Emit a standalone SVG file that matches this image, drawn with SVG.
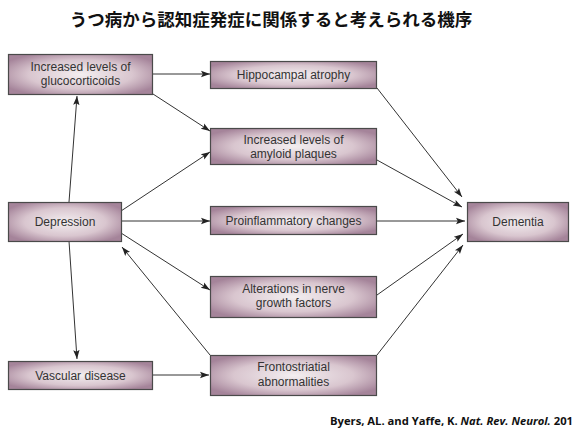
<svg xmlns="http://www.w3.org/2000/svg" width="576" height="432" viewBox="0 0 576 432">
<defs>
<radialGradient id="g" cx="0.5" cy="0.5" r="0.6">
<stop offset="0" stop-color="#f3eef0"/>
<stop offset="0.6" stop-color="#d9c6cf"/>
<stop offset="1" stop-color="#a5849a"/>
</radialGradient>
<marker id="a" viewBox="0 0 10 10" refX="10" refY="5" markerWidth="9" markerHeight="9" markerUnits="userSpaceOnUse" orient="auto">
<path d="M0,1.5 L10,5 L0,8.5 L2,5 Z" fill="#222"/>
</marker>
<style>
.box{fill:url(#g);stroke:#4a4a4a;stroke-width:1.2}
.t{font-family:"Liberation Sans",Arial,sans-serif;font-size:12px;fill:#333;text-anchor:middle}
.c line{stroke:#333;stroke-width:1;marker-end:url(#a)}
</style>
</defs>
<rect width="576" height="432" fill="#fff"/>
<text x="271" y="26" font-family="'Noto Sans CJK JP','Noto Sans CJK SC',sans-serif" font-size="17.5" font-weight="bold" text-anchor="middle" fill="#111">うつ病から認知症発症に関係すると考えられる機序</text>

<g class="c">
<line x1="153" y1="74" x2="210" y2="74"/>
<line x1="153" y1="94" x2="210" y2="131"/>
<line x1="69" y1="202" x2="77" y2="96"/>
<line x1="121" y1="211" x2="210" y2="152"/>
<line x1="121" y1="221" x2="210" y2="221"/>
<line x1="121" y1="233" x2="210" y2="290"/>
<line x1="210" y1="355" x2="122" y2="247"/>
<line x1="69" y1="241" x2="77" y2="359"/>
<line x1="153" y1="375" x2="209" y2="375"/>
<line x1="377" y1="88" x2="462" y2="197"/>
<line x1="377" y1="160" x2="462" y2="207"/>
<line x1="377" y1="221" x2="465" y2="221"/>
<line x1="377" y1="295" x2="463" y2="234"/>
<line x1="377" y1="355" x2="463" y2="245"/>
</g>

<g id="gluco"><rect class="box" x="8.5" y="54.5" width="144" height="40"/>
<text class="t" x="80.5" y="71">Increased levels of</text><text class="t" x="80.5" y="85">glucocorticoids</text></g>
<g id="hippo"><rect class="box" x="210.5" y="61.5" width="166" height="27"/>
<text class="t" x="293.5" y="79">Hippocampal atrophy</text></g>
<g id="amyloid"><rect class="box" x="210.5" y="128.5" width="166" height="36"/>
<text class="t" x="293.5" y="144">Increased levels of</text><text class="t" x="293.5" y="158">amyloid plaques</text></g>
<g id="depression"><rect class="box" x="8.5" y="202.5" width="113" height="39"/>
<text class="t" x="65" y="226">Depression</text></g>
<g id="proinf"><rect class="box" x="210.5" y="206.5" width="166" height="28"/>
<text class="t" x="293.5" y="225">Proinflammatory changes</text></g>
<g id="dementia"><rect class="box" x="467.5" y="202.5" width="101" height="39"/>
<text class="t" x="518" y="226">Dementia</text></g>
<g id="alter"><rect class="box" x="210.5" y="276.5" width="166" height="41"/>
<text class="t" x="293.5" y="293">Alterations in nerve</text><text class="t" x="293.5" y="307">growth factors</text></g>
<g id="vascular"><rect class="box" x="8.5" y="361.5" width="144" height="28"/>
<text class="t" x="80.5" y="380">Vascular disease</text></g>
<g id="fronto"><rect class="box" x="210.5" y="355.5" width="166" height="40"/>
<text class="t" x="293.5" y="371">Frontostriatial</text><text class="t" x="293.5" y="386">abnormalities</text></g>

<text x="330" y="425" font-family="'Open Sans','Liberation Sans',sans-serif" font-size="11" font-weight="bold" fill="#111" textLength="243" lengthAdjust="spacingAndGlyphs">Byers, AL. and Yaffe, K. <tspan font-style="italic">Nat. Rev. Neurol.</tspan> 201</text>
</svg>
